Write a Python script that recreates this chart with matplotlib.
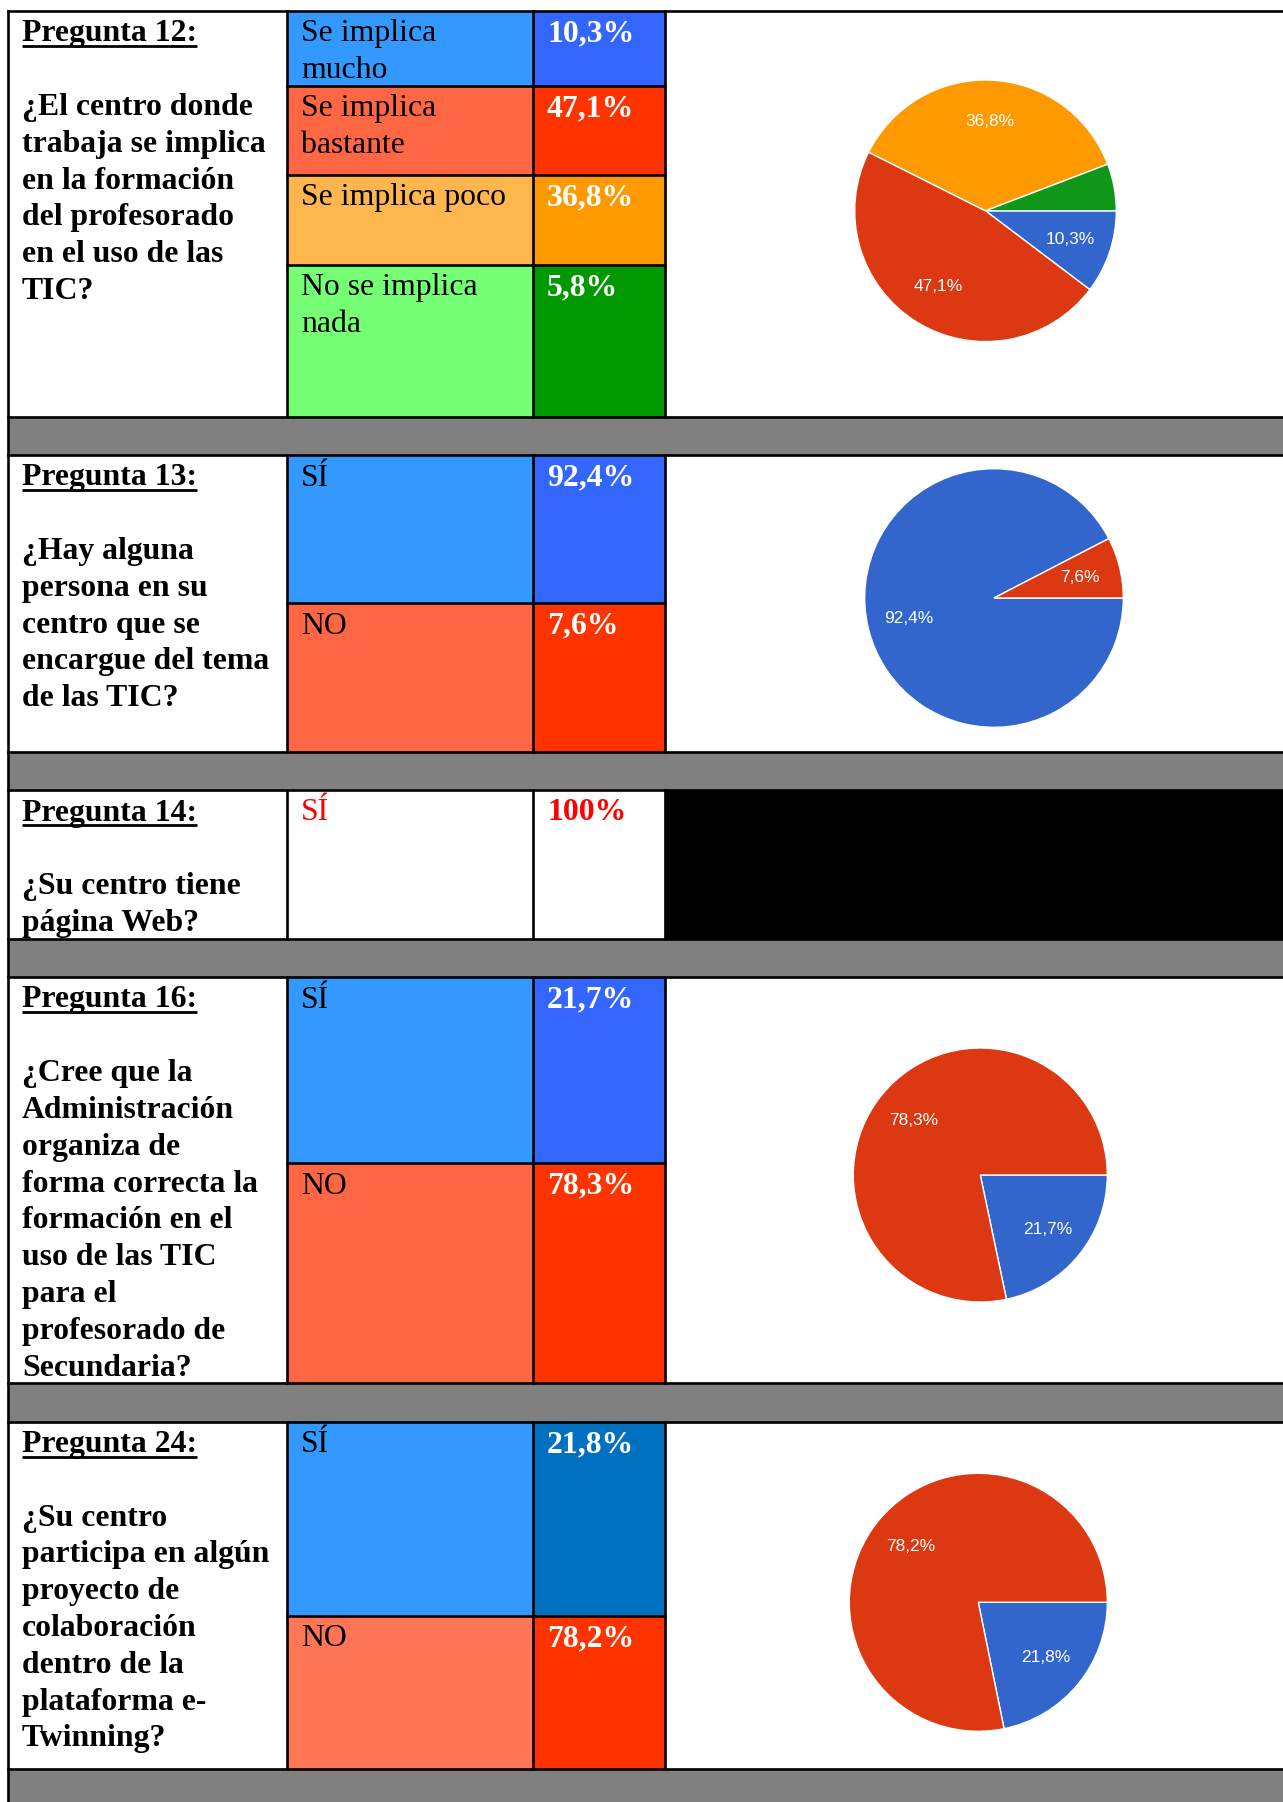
import matplotlib
matplotlib.use("Agg")
import matplotlib.pyplot as plt
from matplotlib.patches import Rectangle

# ---- data ----
q_titles = ["Pregunta 12:", "Pregunta 13:", "Pregunta 14:", "Pregunta 16:", "Pregunta 24:"]
q_texts = [
    ["¿El centro donde", "trabaja se implica", "en la formación", "del profesorado",
     "en el uso de las", "TIC?"],
    ["¿Hay alguna", "persona en su", "centro que se", "encargue del tema", "de las TIC?"],
    ["¿Su centro tiene", "página Web?"],
    ["¿Cree que la", "Administración", "organiza de", "forma correcta la", "formación en el",
     "uso de las TIC", "para el", "profesorado de", "Secundaria?"],
    ["¿Su centro", "participa en algún", "proyecto de", "colaboración", "dentro de la",
     "plataforma e-", "Twinning?"],
]

q12_answers = ["Se implica\nmucho", "Se implica\nbastante", "Se implica poco", "No se implica\nnada"]
q12_values = [10.3, 47.1, 36.8, 5.8]
q13_answers = ["SÍ", "NO"]
q13_values = [92.4, 7.6]
q14_answers = ["SÍ"]
q14_values = [100]
q16_answers = ["SÍ", "NO"]
q16_values = [21.7, 78.3]
q24_answers = ["SÍ", "NO"]
q24_values = [21.8, 78.2]

answers = [q12_answers, q13_answers, q14_answers, q16_answers, q24_answers]
values = [q12_values, q13_values, q14_values, q16_values, q24_values]

# cell colours (label column, percentage column)
label_colors = [
    ["#3399FF", "#FF6644", "#FFB74D", "#75FF75"],
    ["#3399FF", "#FF6644"],
    ["white"],
    ["#3399FF", "#FF6644"],
    ["#3399FF", "#FF7555"],
]
pct_colors = [
    ["#3366FF", "#FF3300", "#FF9900", "#009900"],
    ["#3366FF", "#FF3300"],
    ["white"],
    ["#3366FF", "#FF3300"],
    ["#0070C0", "#FF3300"],
]
pie_colors = ["#3366CC", "#DC3912", "#FF9900", "#109618"]

# ---- layout (pixels) ----
W, H = 1283, 1802
x_left, x_c1, x_c2, x_c3 = 8, 287, 533, 665
row_edges = [
    [11, 85.7, 174.7, 265, 417],
    [455, 603, 751.5],
    [790, 938.5],
    [977, 1163, 1382.5],
    [1421.5, 1615.7, 1769],
]
pie_pos = [(985.5, 210.8, 130.8), (994, 598, 129.3), None, (980.3, 1175, 127), (978.3, 1602.3, 129)]
line_step = 36.8
first_base = 30.5
fs = 22.9
lw = 1.9


def fmt_pct(v):
    if float(v).is_integer():
        return "%d%%" % v
    return ("%.1f" % v).replace(".", ",") + "%"


fig = plt.figure(figsize=(W / 100, H / 100), dpi=100)
ax = fig.add_axes([0, 0, 1, 1])
ax.set_xlim(0, W)
ax.set_ylim(H, 0)
ax.axis("off")

# grey separator bands
for k in range(len(row_edges)):
    y0 = row_edges[k][-1]
    y1 = row_edges[k + 1][0] if k + 1 < len(row_edges) else H
    ax.add_patch(Rectangle((x_left, y0), W - x_left, y1 - y0, color="#808080", zorder=1))

titles = []
for i, edges in enumerate(row_edges):
    top, bottom = edges[0], edges[-1]

    # question text
    t = ax.text(x_left + 14, top + first_base, q_titles[i], family="Liberation Serif",
                weight="bold", fontsize=fs, va="baseline", zorder=3)
    titles.append(t)
    for n, line in enumerate(q_texts[i]):
        ax.text(x_left + 14, top + first_base + (n + 2) * line_step, line,
                family="Liberation Serif", weight="bold", fontsize=fs, va="baseline", zorder=3)

    # answer + percentage cells
    for j, ans in enumerate(answers[i]):
        y0, y1 = edges[j], edges[j + 1]
        ax.add_patch(Rectangle((x_c1, y0), x_c2 - x_c1, y1 - y0, color=label_colors[i][j], zorder=1))
        ax.add_patch(Rectangle((x_c2, y0), x_c3 - x_c2, y1 - y0, color=pct_colors[i][j], zorder=1))
        red_text = label_colors[i][j] == "white"
        for n, line in enumerate(ans.split("\n")):
            ax.text(x_c1 + 14, y0 + first_base + n * line_step, line, family="Liberation Serif",
                    fontsize=fs, va="baseline", color="red" if red_text else "black", zorder=3)
        ax.text(x_c2 + 14, y0 + first_base, fmt_pct(values[i][j]), family="Liberation Serif",
                weight="bold", fontsize=fs, va="baseline",
                color="red" if red_text else "white", zorder=3)
        if j > 0:
            ax.plot([x_c1, x_c3], [y0, y0], color="black", lw=lw, zorder=4)

    # borders of the row
    ax.plot([x_left, W], [top, top], color="black", lw=lw, zorder=4)
    ax.plot([x_left, W], [bottom, bottom], color="black", lw=lw, zorder=4)
    for xv in (x_c1, x_c2, x_c3):
        ax.plot([xv, xv], [top, bottom], color="black", lw=lw, zorder=4)

    # pie chart or black block
    if pie_pos[i] is None:
        ax.add_patch(Rectangle((x_c3, top), W - x_c3, bottom - top, color="black", zorder=2))
        continue
    cx, cy, r = pie_pos[i]
    m = 1.05
    pax = fig.add_axes([(cx - r * m) / W, 1 - (cy + r * m) / H, 2 * r * m / W, 2 * r * m / H])
    pax.pie(values[i], colors=pie_colors[:len(values[i])], startangle=0, counterclock=False,
            wedgeprops=dict(edgecolor="white", linewidth=1.0),
            autopct=lambda p: fmt_pct(round(p, 1)) if p >= 7 else "", pctdistance=0.68,
            textprops=dict(color="white", fontsize=12.5, family="Liberation Sans"))
    pax.set_xlim(-m, m)
    pax.set_ylim(-m, m)
    pax.axis("off")

# left outer border
ax.plot([x_left, x_left], [row_edges[0][0], H], color="black", lw=lw, zorder=4)

# underline the question titles
fig.canvas.draw()
inv = ax.transData.inverted()
for t in titles:
    bb = t.get_window_extent()
    (xa, _), (xb, _) = inv.transform([(bb.x0, bb.y0), (bb.x1, bb.y0)])
    yb = t.get_position()[1] + 4.6
    ax.plot([xa, xb], [yb, yb], color="black", lw=2.0, zorder=4, solid_capstyle="butt")

fig.savefig("out.png", dpi=100)
